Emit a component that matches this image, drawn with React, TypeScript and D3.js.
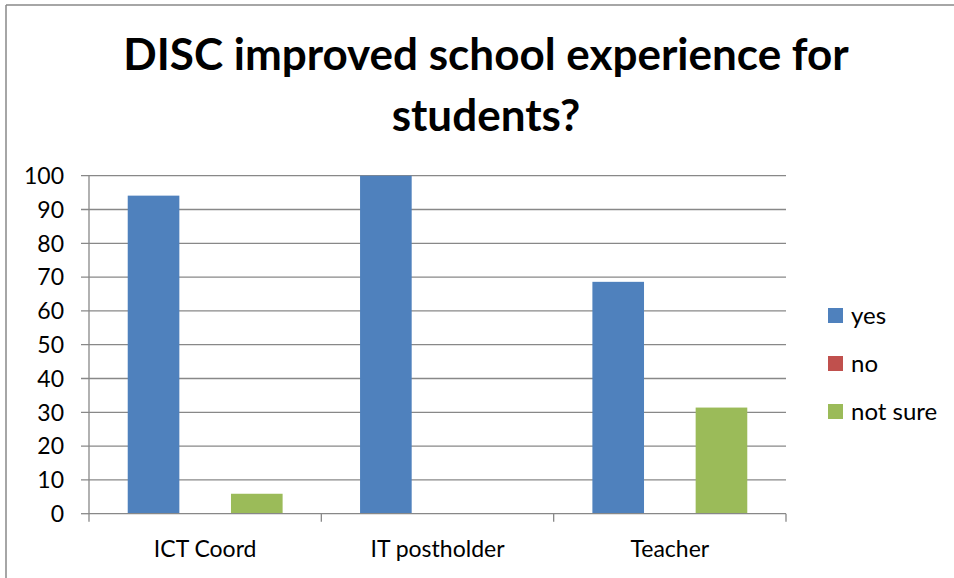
import React from "react";
import * as d3 from "d3";

const categories = ["ICT Coord", "IT postholder", "Teacher"];
const seriesNames = ["yes", "no", "not sure"];
const yesValues = [94.1, 100, 68.6];
const noValues = [0, 0, 0];
const notSureValues = [5.9, 0, 31.4];
const yTicks = [0, 10, 20, 30, 40, 50, 60, 70, 80, 90, 100];
const titleLines = ["DISC improved school experience for", "students?"];

const colors = ["#4F81BD", "#C0504D", "#9BBB59"];
const FONT = "Lato, 'Open Sans', sans-serif";

export default function App() {
  const W = 954, H = 578;
  const left = 89, right = 786, top = 175.7, bottom = 513.7;
  const x = d3.scaleBand<string>().domain(categories).range([left, right]).paddingInner(0).paddingOuter(0);
  const y = d3.scaleLinear().domain([0, 100]).range([bottom, top]);
  const series = [yesValues, noValues, notSureValues];
  const bw = x.bandwidth();
  const barW = bw / (3 + 1.5);
  const gap = barW * 0.75;
  const grid = "#888888";

  return (
    <svg width={W} height={H} style={{ position: "absolute", left: 0, top: 0, background: "#fff" }}>
      <rect x={0} y={0} width={W} height={H} fill="#fff" />
      <line x1={6} x2={W} y1={5} y2={5} stroke="#888" strokeWidth={1.5} />
      <line x1={6} x2={6} y1={5} y2={H} stroke="#888" strokeWidth={1.5} />
      {titleLines.map((t, i) => (
        <text key={t} x={486} y={70 + i * 61} textAnchor="middle" fontFamily={FONT} fontWeight="bold" fontSize={44} fill="#000">
          {t}
        </text>
      ))}
      {yTicks.map((t) => (
        <g key={t}>
          <line x1={left - 8} x2={t === 0 ? left : right} y1={y(t)} y2={y(t)} stroke={grid} strokeWidth={1.3} />
          <text x={64} y={y(t)} dy="0.36em" textAnchor="end" fontFamily={FONT} fontSize={23} fill="#000">
            {t}
          </text>
        </g>
      ))}
      {categories.map((c, ci) =>
        series.map((vals, si) =>
          vals[ci] > 0 ? (
            <rect key={c + si} x={(x(c) as number) + gap + si * barW} y={y(vals[ci])} width={barW} height={y(0) - y(vals[ci])} fill={colors[si]} />
          ) : null
        )
      )}
      <line x1={left} x2={left} y1={top} y2={bottom} stroke={grid} strokeWidth={1.3} />
      <line x1={left} x2={right} y1={bottom} y2={bottom} stroke={grid} strokeWidth={1.3} />
      {[...categories.map((c) => x(c) as number), right].map((v, i) => (
        <line key={i} x1={v} x2={v} y1={bottom} y2={bottom + 8} stroke={grid} strokeWidth={1.3} />
      ))}
      {categories.map((c) => (
        <text key={c} x={(x(c) as number) + bw / 2} y={557} textAnchor="middle" fontFamily={FONT} fontSize={23} fill="#000">
          {c}
        </text>
      ))}
      {seriesNames.map((s, i) => (
        <g key={s}>
          <rect x={828} y={308 + i * 48} width={15} height={15} fill={colors[i]} />
          <text x={851} y={315.5 + i * 48} dy="0.36em" fontFamily={FONT} fontSize={24} fill="#000">
            {s}
          </text>
        </g>
      ))}
    </svg>
  );
}
